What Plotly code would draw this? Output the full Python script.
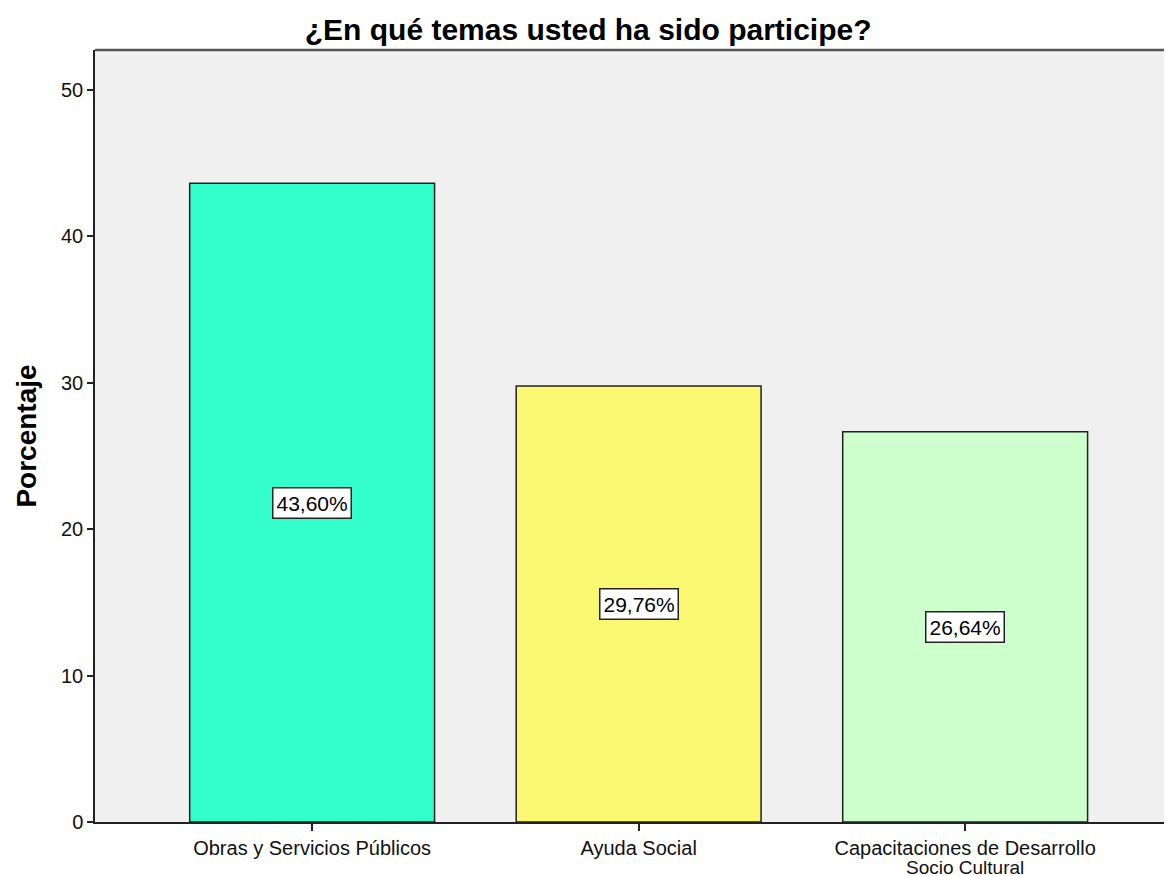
import plotly.graph_objects as go

categories = ["Obras y Servicios Públicos", "Ayuda Social", "Capacitaciones de Desarrollo"]
category_second_line = ["", "", "Socio Cultural"]
values = [43.60, 29.76, 26.64]
labels = ["43,60%", "29,76%", "26,64%"]
colors = ["#33FFCC", "#FAF771", "#CCFFCC"]
y_ticks = [0, 10, 20, 30, 40, 50]

FONT = "Liberation Sans, Arial, sans-serif"

fig = go.Figure()
fig.add_trace(go.Bar(
    x=categories, y=values,
    marker=dict(color=colors, line=dict(color="#222222", width=1.5)),
    width=0.75, hoverinfo="skip", showlegend=False,
))

for c, v, t in zip(categories, values, labels):
    fig.add_annotation(x=c, y=v / 2, text=t, showarrow=False,
                       bgcolor="white", bordercolor="#222222", borderwidth=1.5,
                       borderpad=3, font=dict(size=21, color="black", family=FONT))

for c, t in zip(categories, category_second_line):
    if t:
        fig.add_annotation(x=c, y=0, yref="paper", yanchor="top", yshift=-33,
                           text=t, showarrow=False,
                           font=dict(size=19, color="#111111", family=FONT))

fig.add_shape(type="line", xref="paper", yref="paper", x0=0, x1=1, y0=1, y1=1,
              line=dict(color="#555555", width=2.5))

fig.update_layout(
    width=1172, height=876,
    margin=dict(l=87, r=0, t=42, b=62),
    paper_bgcolor="white", plot_bgcolor="#F0F0F0",
    font=dict(family=FONT, color="black", size=20),
    title=dict(text="<b>¿En qué temas usted ha sido participe?</b>", x=0.495, xanchor="center",
               y=0.975, yanchor="middle", font=dict(size=30, color="black")),
)
fig.update_xaxes(range=[-0.665, 2.658], showline=True, linecolor="#222222", linewidth=1.5,
                 ticks="outside", ticklen=7, tickcolor="#222222", tickwidth=1.5,
                 tickfont=dict(size=20, color="#111111"), showgrid=False, zeroline=False)
fig.update_yaxes(range=[0, 52.7], tickvals=y_ticks, showline=True, linecolor="#222222",
                 linewidth=1.5, ticks="outside", ticklen=6, tickcolor="#222222", tickwidth=1.5,
                 tickfont=dict(size=20, color="#111111"), showgrid=False, zeroline=False,
                 title=dict(text="<b>Porcentaje</b>", font=dict(size=28), standoff=16))

fig.write_html("out.html")
